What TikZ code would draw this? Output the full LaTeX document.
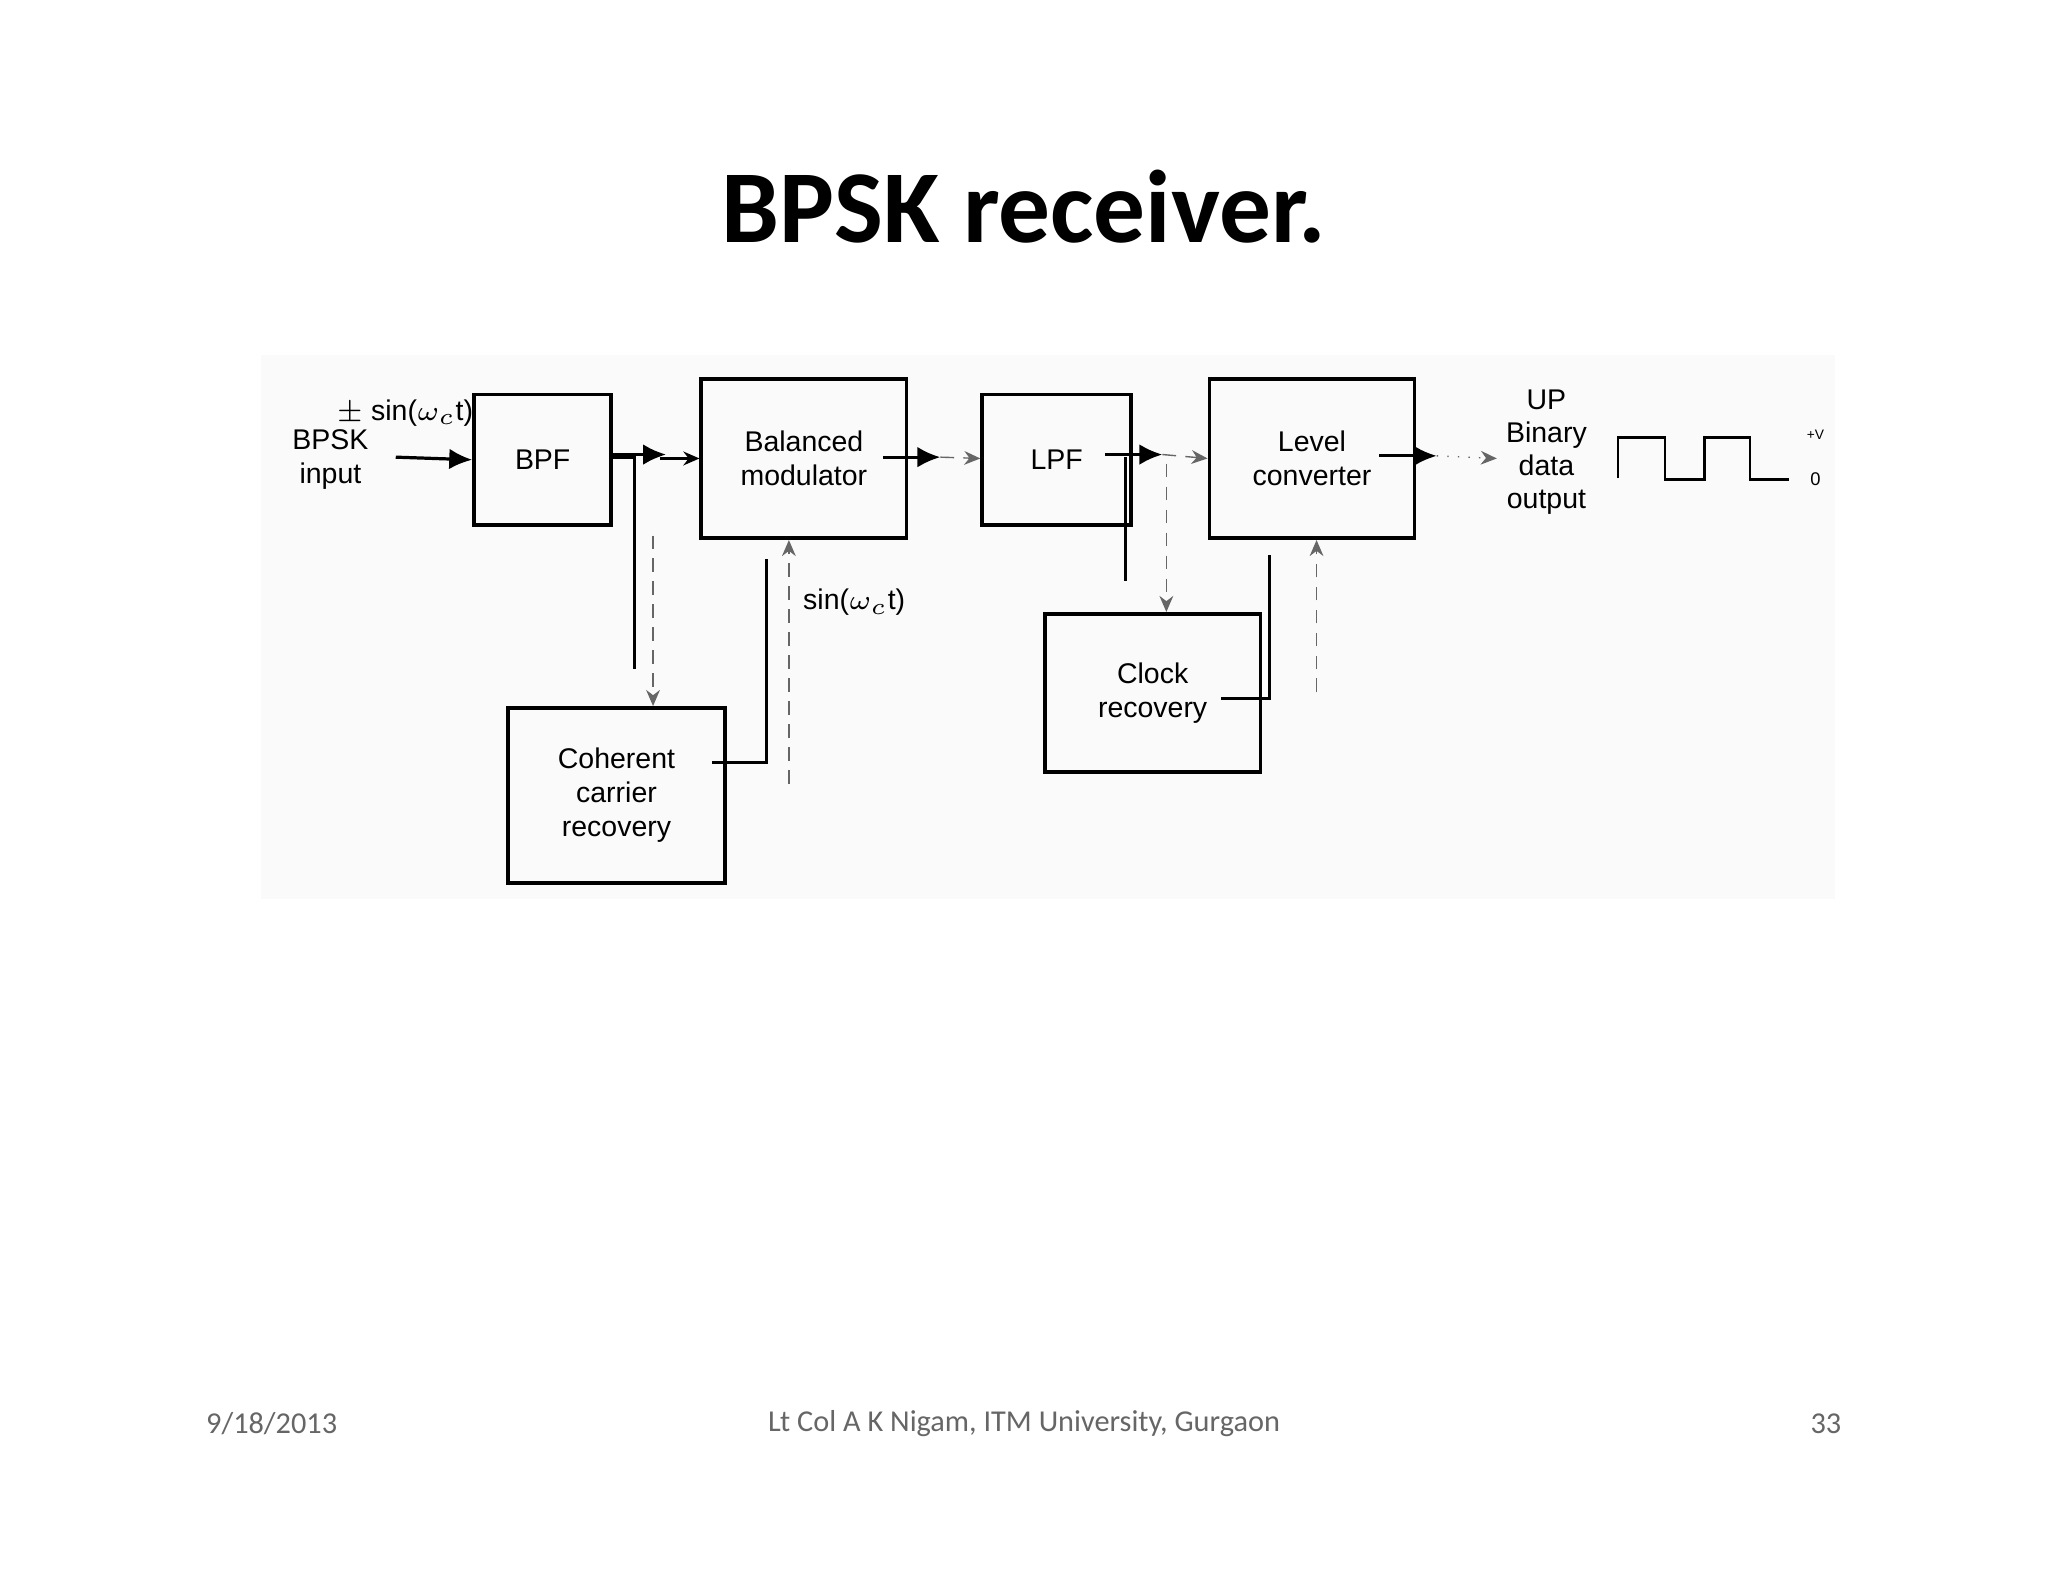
\documentclass[tikz,border=0pt]{standalone}
\usepackage{fontspec}
\setmainfont{Liberation Sans}
\newfontfamily\carfont{Carlito}
\usetikzlibrary{arrows.meta}
\begin{document}
\begin{tikzpicture}[x=0.01cm,y=-0.01cm,
  box/.style={draw,line width=0.8pt,inner sep=0pt,align=center,font=\fontsize{6.2}{7.4}\selectfont},
  txt/.style={inner sep=0pt,align=center,font=\fontsize{6.2}{7.4}\selectfont},
  sl/.style={line width=0.7pt},
  big/.style={-{Latex[length=5pt,width=4.5pt]}},
  sm/.style={-{Stealth[length=3.5pt,width=3pt]}},
  dsh/.style={line width=0.3pt,densely dashed,draw=black!60}]
\useasboundingbox (0,0) rectangle (1568,1211);
\fill[white] (0,0) rectangle (1568,1211);
\fill[black!2] (200,272) rectangle (1405,688);
\node[font=\carfont\bfseries\fontsize{22.5}{26}\selectfont] (title) at (784,158) {BPSK receiver.};
\node[box,minimum width=1.05cm,minimum height=1.0cm] (bpf) at (415.5,352) {BPF};
\node[box,minimum width=1.57cm,minimum height=1.22cm] (bm) at (615.5,351) {Balanced\\modulator};
\node[box,minimum width=1.14cm,minimum height=1.0cm] (lpf) at (809,352) {LPF};
\node[box,minimum width=1.57cm,minimum height=1.22cm] (lc) at (1004.5,351) {Level\\converter};
\node[box,minimum width=1.66cm,minimum height=1.34cm] (ccr) at (472,609) {Coherent\\carrier\\recovery};
\node[box,minimum width=1.65cm,minimum height=1.21cm] (clk) at (882.5,530.5) {Clock\\recovery};
\node[txt] (in) at (253,352) {BPSK\\input};
\node[txt] (pm) at (310,316) {$\pm$ sin($\omega_c$t)};
\node[txt] (sin) at (654,461) {sin($\omega_c$t)};
\node[txt,font=\fontsize{6.2}{7.2}\selectfont] (out) at (1184,346) {UP\\Binary\\data\\output};
\node[txt,font=\fontsize{3}{3}\selectfont] (pv) at (1390,333) {+V};
\node[txt,font=\fontsize{4}{4}\selectfont] (z) at (1390,367) {0};
% main path
\coordinate (a1) at (303,350);
\draw[sl,big] (a1) -- (bpf.west);
\draw[sl,big] (bpf.east |- 0,348) -- (510,348);
\draw[sl,sm] (505,351) -- (bm.west |- 0,351);
\coordinate (b1) at (676,350);\coordinate (b2) at (720,350);
\draw[sl,big] (b1) -- (b2);
\draw[dsh,sm] (b2) -- (lpf.west |- 0,351);
\coordinate (c1) at (846,348);\coordinate (c2) at (890,348);
\draw[sl,big] (c1) -- (c2);
\draw[dsh,sm] (c2) -- (lc.west |- 0,351);
\coordinate (d1) at (1056,349);\coordinate (d2) at (1100,349);
\draw[sl,big] (d1) -- (d2);
\draw[dsh,sm,dotted] (d2) -- (1146,351);
% branches
\coordinate (e1) at (486,350);\coordinate (e2) at (486,512);
\draw[sl] (bpf.east |- e1) -- (e1) -- (e2);
\draw[dsh,sm] (500,410) -- (ccr.north -| 500,0);
\coordinate (f1) at (587,584);\coordinate (f2) at (587,428);
\draw[sl] (545,584) -- (f1) -- (f2);
\draw[dsh,sm] (604,600) -- (bm.south -| 604,0);
\coordinate (g1) at (862,350);\coordinate (g2) at (862,445);
\draw[sl] (g1) -- (g2);
\draw[dsh,sm] (893,355) -- (clk.north -| 893,0);
\coordinate (h1) at (972,535);\coordinate (h2) at (972,425);
\draw[sl] (935,535) -- (h1) -- (h2);
\draw[dsh,sm] (1008,530) -- (lc.south -| 1008,0);
% waveform
\draw[line width=0.5pt] (1239,366) -- (1239,335) -- (1275,335) -- (1275,367) -- (1305,367) -- (1305,335) -- (1340,335) -- (1340,367) -- (1370,367);
% footer
\node[font=\carfont\fontsize{6.6}{8}\selectfont,text=black!60] (date) at (208,1090) {9/18/2013};
\node[font=\carfont\fontsize{6.6}{8}\selectfont,text=black!60] (auth) at (784,1090) {Lt Col A K Nigam, ITM University, Gurgaon};
\node[font=\carfont\fontsize{6.6}{8}\selectfont,text=black!60] (pg) at (1398,1090) {33};
\end{tikzpicture}
\end{document}
